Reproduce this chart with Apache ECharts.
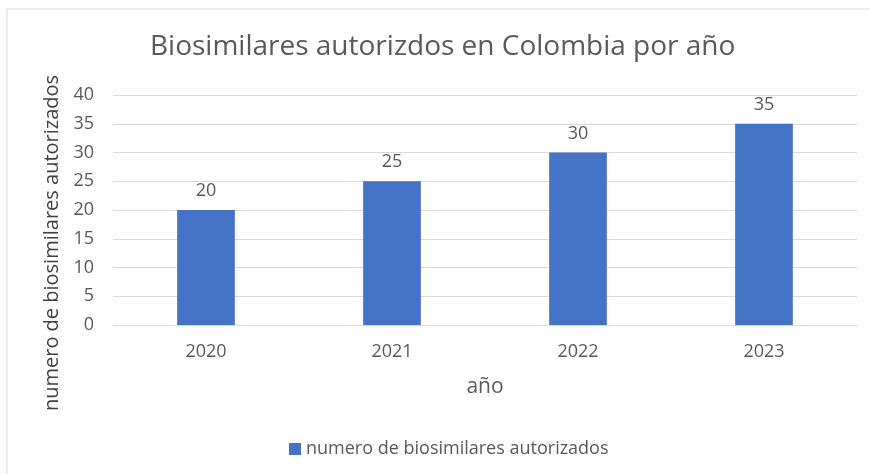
<!DOCTYPE html>
<html>
<head>
<meta charset="utf-8">
<script src="https://cdn.jsdelivr.net/npm/echarts@6/dist/echarts.min.js"></script>
<style>
  html, body { margin: 0; padding: 0; background: #fff; }
  #chart { width: 870px; height: 474px; }
</style>
</head>
<body>
<div id="chart"></div>
<script>
const years = ['2020', '2021', '2022', '2023']
const biosimilares = [20, 25, 30, 35]
const seriesName = 'numero de biosimilares autorizados'

const font = 'Open Sans'
const grey = '#595959'

const myChart = echarts.init(document.getElementById('chart'))
const option = {
  animation: false,
  textStyle: { fontFamily: font },
  title: {
    text: 'Biosimilares autorizdos en Colombia por año',
    left: 150,
    top: 33,
    padding: 0,
    textStyle: { fontFamily: font, fontSize: 28, fontWeight: 'normal', color: grey }
  },
  graphic: [{
    // borde del área del gráfico
    type: 'rect',
    shape: { x: 7, y: 9, width: 900, height: 500 },
    style: { fill: 'none', stroke: '#d9d9d9', lineWidth: 1 },
    silent: true
  }],
  legend: {
    bottom: 11,
    left: 284,
    icon: 'rect',
    itemWidth: 12,
    itemHeight: 12,
    itemGap: 6,
    textStyle: { fontFamily: font, fontSize: 18, color: grey }
  },
  grid: {
    left: 113,
    right: 13,
    top: 95,
    bottom: 149
  },
  xAxis: {
    type: 'category',
    data: years,
    name: 'año',
    nameLocation: 'middle',
    nameGap: 52,
    nameTextStyle: { fontFamily: font, fontSize: 21, color: grey },
    axisLine: { lineStyle: { color: '#d9d9d9', width: 1 } },
    axisTick: { show: false },
    axisLabel: { fontFamily: font, fontSize: 18, color: grey, margin: 18 }
  },
  yAxis: {
    type: 'value',
    min: 0,
    max: 40,
    interval: 5,
    name: seriesName,
    nameLocation: 'middle',
    nameGap: 51,
    nameTextStyle: { fontFamily: font, fontSize: 20, color: '#404040', padding: [0, 66, 0, 0] },
    axisLine: { show: false },
    axisTick: { show: false },
    axisLabel: { fontFamily: font, fontSize: 18, color: grey, margin: 19 },
    splitLine: { lineStyle: { color: '#d9d9d9', width: 1 } }
  },
  series: [{
    name: seriesName,
    type: 'bar',
    data: biosimilares,
    barWidth: '31%',
    itemStyle: { color: '#4472c4' },
    label: {
      show: true,
      position: 'top',
      distance: 10,
      fontFamily: font,
      fontSize: 18,
      color: grey
    }
  }]
}
myChart.setOption(option)
</script>
</body>
</html>
